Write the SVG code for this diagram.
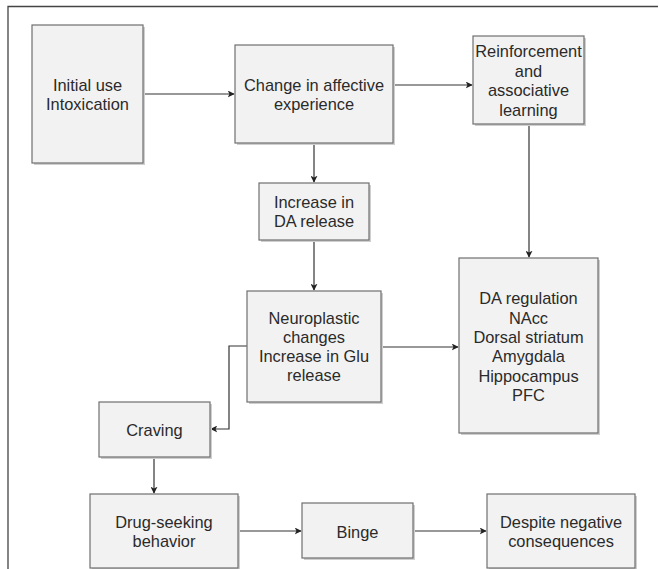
<svg xmlns="http://www.w3.org/2000/svg" width="659" height="569" viewBox="0 0 659 569">
<style>
.box{fill:#f2f2f2;stroke:#6f6f6f;stroke-width:1.2}
.sh{fill:#cfcfcf;stroke:none}
text{font-family:"Liberation Sans",Arial,sans-serif;font-size:16.4px;fill:#2a2a2a;text-anchor:middle}
.c{fill:none;stroke:#333;stroke-width:1.2}
</style>
<defs>
<marker id="a" viewBox="0 0 10 10" refX="9" refY="5" markerWidth="7" markerHeight="7" markerUnits="userSpaceOnUse" orient="auto">
<path d="M0,0 L10,5 L0,10 L2.5,5 Z" fill="#222"/>
</marker>
</defs>
<rect width="659" height="569" fill="#fff"/>
<path d="M8,569 V6.5 H658" fill="none" stroke="#444" stroke-width="1.3"/>
<g id="connectors">
<path class="c" d="M143,94 H234" marker-end="url(#a)"/>
<path class="c" d="M393,85 H472" marker-end="url(#a)"/>
<path class="c" d="M314,143 V182" marker-end="url(#a)"/>
<path class="c" d="M314,240 V290" marker-end="url(#a)"/>
<path class="c" d="M529,124 V257" marker-end="url(#a)"/>
<path class="c" d="M381,347 H458" marker-end="url(#a)"/>
<path class="c" d="M247,346 H229 V429 H211" marker-end="url(#a)"/>
<path class="c" d="M154,457 V493" marker-end="url(#a)"/>
<path class="c" d="M238,531 H301" marker-end="url(#a)"/>
<path class="c" d="M413,531 H486" marker-end="url(#a)"/>
</g>
<g id="n1"><rect class="sh" x="34" y="27" width="111" height="138"/><rect class="box" x="32" y="25" width="111" height="138"/><text x="87.5" y="91">Initial use</text><text x="87.5" y="110">Intoxication</text></g>
<g id="n2"><rect class="sh" x="237" y="47" width="158" height="98"/><rect class="box" x="235" y="45" width="158" height="98"/><text x="314" y="91">Change in affective</text><text x="314" y="110">experience</text></g>
<g id="n3"><rect class="sh" x="475" y="38" width="111" height="88"/><rect class="box" x="473" y="36" width="111" height="88"/><text x="528.5" y="57">Reinforcement</text><text x="528.5" y="76.5">and</text><text x="528.5" y="96">associative</text><text x="528.5" y="115.5">learning</text></g>
<g id="n4"><rect class="sh" x="261" y="185" width="110" height="57"/><rect class="box" x="259" y="183" width="110" height="57"/><text x="314" y="208">Increase in</text><text x="314" y="227">DA release</text></g>
<g id="n5"><rect class="sh" x="249" y="293" width="134" height="111"/><rect class="box" x="247" y="291" width="134" height="111"/><text x="314" y="324">Neuroplastic</text><text x="314" y="343">changes</text><text x="314" y="362">Increase in Glu</text><text x="314" y="381">release</text></g>
<g id="n6"><rect class="sh" x="461" y="260" width="139" height="175"/><rect class="box" x="459" y="258" width="139" height="175"/><text x="528.5" y="304">DA regulation</text><text x="528.5" y="323.5">NAcc</text><text x="528.5" y="343">Dorsal striatum</text><text x="528.5" y="362">Amygdala</text><text x="528.5" y="381.5">Hippocampus</text><text x="528.5" y="401">PFC</text></g>
<g id="n7"><rect class="sh" x="101" y="404" width="111" height="55"/><rect class="box" x="99" y="402" width="111" height="55"/><text x="154.5" y="435.5">Craving</text></g>
<g id="n8"><rect class="sh" x="92" y="496" width="148" height="74"/><rect class="box" x="90" y="494" width="148" height="74"/><text x="164" y="528">Drug-seeking</text><text x="164" y="547">behavior</text></g>
<g id="n9"><rect class="sh" x="304" y="505" width="111" height="55"/><rect class="box" x="302" y="503" width="111" height="55"/><text x="357.5" y="537.5">Binge</text></g>
<g id="n10"><rect class="sh" x="489" y="496" width="148" height="74"/><rect class="box" x="487" y="494" width="148" height="74"/><text x="561" y="528">Despite negative</text><text x="561" y="547">consequences</text></g>
</svg>
